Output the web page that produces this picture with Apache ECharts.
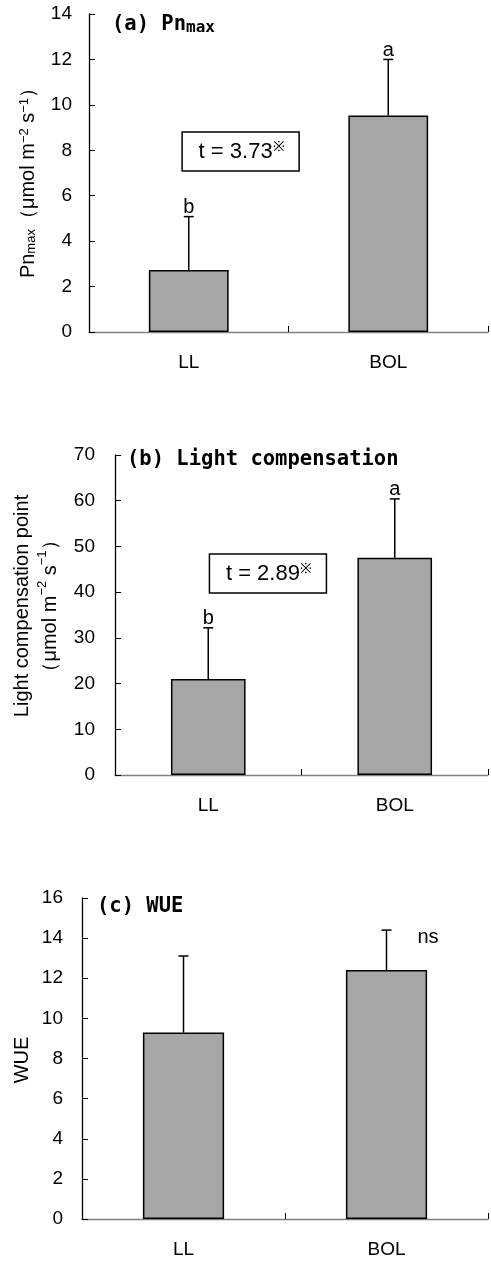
<!DOCTYPE html>
<html><head><meta charset="utf-8">
<script src="https://cdn.jsdelivr.net/npm/echarts@6/dist/echarts.min.js"></script>
<style>html,body{margin:0;padding:0;background:#fff}#c{width:491px;height:1261px}</style>
</head><body><div id="c"></div>
<script>
// ---- data ----
const categories = ['LL', 'BOL'];

const pnmaxMean = [2.73, 9.53];
const pnmaxErr = [2.35, 2.47];
const pnmaxLetters = ['b', 'a'];
const pnmaxTicks = [0, 2, 4, 6, 8, 10, 12, 14];
const pnmaxT = 't = 3.73';

const lcpMean = [21.0, 47.5];
const lcpErr = [11.2, 12.9];
const lcpLetters = ['b', 'a'];
const lcpTicks = [0, 10, 20, 30, 40, 50, 60, 70];
const lcpT = 't = 2.89';

const wueMean = [9.29, 12.41];
const wueErr = [3.82, 1.99];
const wueLetters = ['', 'ns'];
const wueTicks = [0, 2, 4, 6, 8, 10, 12, 14, 16];

// ---- layout / style ----
const SANS = '"Liberation Sans", Arial, sans-serif';
const MONO = '"DejaVu Sans Mono", monospace';
const BAR = '#a6a6a6';

const panels = [
  { mean: pnmaxMean, err: pnmaxErr, letters: pnmaxLetters, ticks: pnmaxTicks, t: pnmaxT,
    grid: { left: 89, top: 14, width: 399, height: 318 }, tickMargin: 17,
    tPos: { frac: 0.26, y: 7.95 }, letterMode: 'top' },
  { mean: lcpMean, err: lcpErr, letters: lcpLetters, ticks: lcpTicks, t: lcpT,
    grid: { left: 115, top: 455, width: 373, height: 320 }, tickMargin: 20,
    tPos: { frac: 0.32, y: 44.1 }, letterMode: 'top' },
  { mean: wueMean, err: wueErr, letters: wueLetters, ticks: wueTicks, t: null,
    grid: { left: 82, top: 898, width: 406, height: 321 }, tickMargin: 19,
    tPos: null, letterMode: 'right' }
];

const grids = [], xAxes = [], yAxes = [], series = [];
panels.forEach((p, i) => {
  grids.push(Object.assign({ containLabel: false }, p.grid));
  xAxes.push({
    type: 'category', gridIndex: i, data: categories, boundaryGap: true,
    axisLine: { lineStyle: { color: '#808080', width: 1.3 } },
    axisTick: { show: true, inside: true, length: 6, alignWithLabel: false, lineStyle: { color: '#000', width: 1 } },
    axisLabel: { color: '#000', fontFamily: SANS, fontSize: 19, margin: 21 },
    splitLine: { show: false }
  });
  const t = p.ticks;
  yAxes.push({
    type: 'value', gridIndex: i, min: t[0], max: t[t.length - 1], interval: t[1] - t[0],
    axisLine: { show: true, lineStyle: { color: '#000', width: 1.3 } },
    axisTick: { show: true, inside: true, length: 6, lineStyle: { color: '#000', width: 1 } },
    axisLabel: { color: '#000', fontFamily: SANS, fontSize: 19, margin: p.tickMargin },
    splitLine: { show: false }
  });
  series.push({
    type: 'bar', xAxisIndex: i, yAxisIndex: i, data: p.mean, barWidth: '40%',
    itemStyle: { color: BAR, borderColor: '#000', borderWidth: 1.5 }, z: 2
  });
  // error bars with significance letters
  series.push({
    type: 'custom', xAxisIndex: i, yAxisIndex: i, z: 5, clip: false,
    data: p.mean.map((m, k) => [k, m, m + p.err[k]]),
    renderItem: (params, api) => {
      const k = api.value(0);
      const base = api.coord([k, api.value(1)]);
      const top = api.coord([k, api.value(2)]);
      const children = [
        { type: 'line', shape: { x1: base[0], y1: base[1], x2: top[0], y2: top[1] }, style: { stroke: '#000', lineWidth: 1.5 } },
        { type: 'line', shape: { x1: top[0] - 5, y1: top[1], x2: top[0] + 5, y2: top[1] }, style: { stroke: '#000', lineWidth: 1.5 } }
      ];
      const letter = p.letters[params.dataIndex];
      if (letter) {
        if (p.letterMode === 'top') {
          children.push({ type: 'text', x: top[0], y: top[1] + 1,
            style: { text: letter, fill: '#000', fontFamily: SANS, fontSize: 20, align: 'center', verticalAlign: 'bottom' } });
        } else {
          children.push({ type: 'text', x: top[0] + 31, y: top[1] + 7,
            style: { text: letter, fill: '#000', fontFamily: SANS, fontSize: 20, align: 'left', verticalAlign: 'middle' } });
        }
      }
      return { type: 'group', children };
    }
  });
  if (p.t) {
    series.push({
      type: 'custom', xAxisIndex: i, yAxisIndex: i, z: 6, clip: false,
      data: [[0, p.tPos.y]],
      renderItem: (params, api) => {
        const a = api.coord([0, p.tPos.y]);
        const b = api.coord([1, p.tPos.y]);
        const cx = a[0] + p.tPos.frac * (b[0] - a[0]);
        const cy = a[1];
        return { type: 'group', children: [
          { type: 'rect', shape: { x: cx - 58.5, y: cy - 19.5, width: 117, height: 39 },
            style: { fill: '#fff', stroke: '#000', lineWidth: 1.5 } },
          { type: 'text', x: cx + 1, y: cy + 1,
            style: { text: '{m|' + p.t + '}{s|※}', align: 'center', verticalAlign: 'middle',
              rich: { m: { fontFamily: SANS, fontSize: 22, fill: '#000' },
                      s: { fontFamily: SANS, fontSize: 14, fill: '#000', verticalAlign: 'top', padding: [0, 0, 10, 0] } } } }
        ] };
      }
    });
  }
});

const labRich = {
  n: { fontFamily: SANS, fontSize: 20, fill: '#000' },
  sub: { fontFamily: SANS, fontSize: 13, fill: '#000', verticalAlign: 'bottom' },
  sup: { fontFamily: SANS, fontSize: 13, fill: '#000', verticalAlign: 'top' }
};
const titleRich = {
  b: { fontFamily: MONO, fontWeight: 'bold', fontSize: 20.5, fill: '#000' },
  s: { fontFamily: MONO, fontWeight: 'bold', fontSize: 16, fill: '#000', verticalAlign: 'bottom' }
};

const graphic = [
  { type: 'text', x: 112, y: 25, style: { text: '{b|(a) Pn}{s|max}', rich: titleRich, align: 'left', verticalAlign: 'middle' } },
  { type: 'text', x: 127, y: 460, style: { text: '{b|(b) Light compensation}', rich: titleRich, align: 'left', verticalAlign: 'middle' } },
  { type: 'text', x: 97, y: 907, style: { text: '{b|(c) WUE}', rich: titleRich, align: 'left', verticalAlign: 'middle' } },
  { type: 'text', x: 28, y: 178, rotation: Math.PI / 2,
    style: { text: '{n|Pn}{sub|max}{n|（μmol m}{sup|−2}{n| s}{sup|−1}{n|）}', rich: labRich, align: 'center', verticalAlign: 'middle' } },
  { type: 'text', x: 36, y: 606, rotation: Math.PI / 2,
    style: { text: '{n|Light compensation point}\n{n|（μmol m}{sup|−2}{n| s}{sup|−1}{n|）}', rich: labRich, align: 'center', verticalAlign: 'middle', lineHeight: 28 } },
  { type: 'text', x: 22, y: 1060, rotation: Math.PI / 2,
    style: { text: '{n|WUE}', rich: labRich, align: 'center', verticalAlign: 'middle' } }
];

const chart = echarts.init(document.getElementById('c'), null, { renderer: 'canvas' });
chart.setOption({
  animation: false,
  backgroundColor: '#fff',
  grid: grids, xAxis: xAxes, yAxis: yAxes, series, graphic
});
</script>
</body></html>
